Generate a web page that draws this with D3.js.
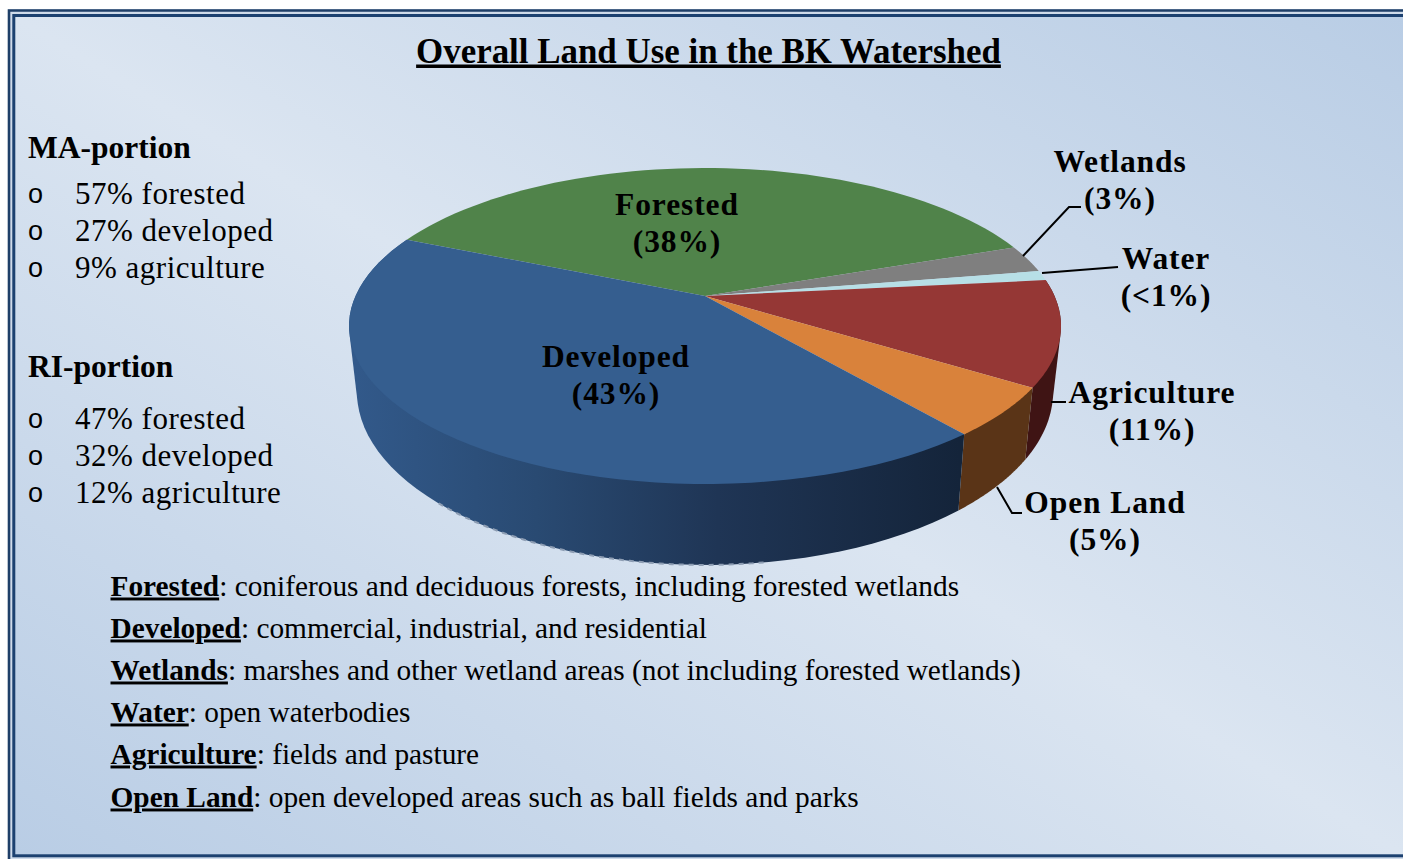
<!DOCTYPE html>
<html><head><meta charset="utf-8">
<script src="https://cdn.jsdelivr.net/npm/d3@7"></script>
<style>html,body{margin:0;padding:0;background:#fff}svg{display:block}text{font-family:"Liberation Serif",serif;fill:#000}</style>
</head><body><div id="c"></div>
<script>
const categories = ["Forested","Wetlands","Water","Agriculture","Open Land","Developed"];
const values = [38,2.8,1,10.8,5,42.4];
const topColors = ["#50834a","#7f7f7f","#b7dfe6","#953735","#d9823b","#355e8f"];
const wallColors = ["#2e4a2a","#444","#6a8a90","#3f1414","#5a3417","url(#wallGrad)"];
const pieLabels = ["Forested\n(38%)","Wetlands\n(3%)","Water\n(<1%)","Agriculture\n(11%)","Open Land\n(5%)","Developed\n(43%)"];
const maItems = ["57% forested","27% developed","9% agriculture"];
const riItems = ["47% forested","32% developed","12% agriculture"];
const defTerms = ["Forested","Developed","Wetlands","Water","Agriculture","Open Land"];
const defTexts = [": coniferous and deciduous forests, including forested wetlands",": commercial, industrial, and residential",": marshes and other wetland areas (not including forested wetlands)",": open waterbodies",": fields and pasture",": open developed areas such as ball fields and parks"];

const W=1403,H=859;
const svg=d3.select("#c").append("svg").attr("width",W).attr("height",H);
const defs=svg.append("defs");

// frame & background
const bx=15.3,by=17,bw=W-15,bh=837.3;
const nx=bh,ny=-bw,nl=Math.hypot(nx,ny),ux=nx/nl,uy=ny/nl;
const proj=(bw/2*ux-bh/2*uy);
const ccx=bx+bw/2,ccy=by+bh/2;
const bg=defs.append("linearGradient").attr("id","bg").attr("gradientUnits","userSpaceOnUse")
 .attr("x1",ccx-ux*proj).attr("y1",ccy-uy*proj).attr("x2",ccx+ux*proj).attr("y2",ccy+uy*proj);
[[0,"#b9cde5"],[.5,"#dbe5f1"],[1,"#b9cde5"]].forEach(s=>bg.append("stop").attr("offset",s[0]).attr("stop-color",s[1]));
const wg=defs.append("linearGradient").attr("id","wallGrad").attr("gradientUnits","userSpaceOnUse")
 .attr("x1",355).attr("x2",960).attr("y1",0).attr("y2",0);
[[0,"#32598a"],[.3,"#294a72"],[.6,"#1f3555"],[1,"#14243a"]].forEach(s=>wg.append("stop").attr("offset",s[0]).attr("stop-color",s[1]));

svg.append("rect").attr("x",8).attr("y",9).attr("width",W).attr("height",H-9).attr("fill","#cfdbea");
svg.append("path").attr("d",`M${W} 10.5H9V${H}`).attr("fill","none").attr("stroke","#1f3f68").attr("stroke-width",2.6);
svg.append("rect").attr("x",bx-1.5).attr("y",by-1.5).attr("width",W).attr("height",bh+3).attr("fill","url(#bg)").attr("stroke","#1c4170").attr("stroke-width",3);

// pie through d3.pie and a perspective projection of the unit disc
const start=293.4*Math.PI/180;
const arcs=d3.pie().value(d=>d).sort(null).startAngle(start).endAngle(start+2*Math.PI)(values);
const k=0.19;
const cx=705;
const project=(disc,a)=>{const u=Math.sin(a),v=-Math.cos(a),w=1-k*v;return [cx+disc.A*u/w,disc.cy+disc.B*v/w];};
const topDisc={A:349.5,B:152.3,cy:296}, botDisc={A:341.7,B:166.8,cy:359};
const line=d3.line();
const samples=(a0,a1)=>d3.range(0,61).map(i=>a0+(a1-a0)*i/60);
const g=svg.append("g");
// walls for the slices facing the viewer (hull gives straight tangents at the sides)
[3,4,5].forEach(i=>{const d=arcs[i];const s=samples(d.startAngle,d.endAngle);
 const pts=s.map(a=>project(topDisc,a)).concat(s.map(a=>project(botDisc,a)));
 g.append("path").attr("d",line(d3.polygonHull(pts))+"Z").attr("fill",wallColors[i]);});
// pale rough lower rim of the wall
const rim=samples(172*Math.PI/180,222*Math.PI/180).map(a=>project(botDisc,a));
g.append("path").attr("d",line(rim)).attr("fill","none").attr("stroke","#8d9db3").attr("stroke-width",2).attr("stroke-dasharray","5 5");
// top faces
arcs.forEach((d,i)=>{const pts=[[cx,topDisc.cy]].concat(samples(d.startAngle,d.endAngle).map(a=>project(topDisc,a)));
 g.append("path").attr("d",line(pts)+"Z").attr("fill",topColors[i]);});

// text helpers
function t(x,y,s,size,weight,anchor){return svg.append("text").attr("x",x).attr("y",y).attr("font-size",size).attr("font-weight",weight||"normal").attr("text-anchor",anchor||"start").text(s);}
t(708.5,62.5,"Overall Land Use in the BK Watershed",34.9,"bold","middle").attr("text-decoration","underline");

const bullet=(y)=>t(28,y,"o",27).style("font-family",'"Liberation Sans",sans-serif');
const item=(y,s)=>{bullet(y);t(75,y+0.5,s,31).attr("letter-spacing",0.5);};
t(28,157.5,"MA-portion",31.5,"bold");
maItems.forEach((s,i)=>item([203,240,277][i],s));
t(28,376.5,"RI-portion",31.5,"bold");
riItems.forEach((s,i)=>item([428,465,502][i],s));

// slice labels
const labelPos=[[677,214.5,251.5],[1120,171.5,208.5],[1166,268.5,305.5],[1152,402.5,439.5],[1105,512.5,549.5],[616,366.5,403.5]];
pieLabels.forEach((s,i)=>{const p=s.split("\n"),q=labelPos[i];
 t(q[0],q[1],p[0],31.5,"bold","middle").attr("letter-spacing",0.9);
 t(q[0],q[2],p[1],31.5,"bold","middle").attr("letter-spacing",0.9);});
const leaders=[[[1023,256],[1069,207],[1081,207]],[[1042,273],[1118,267]],[[1051,402],[1066,402]],[[997,487],[1012,513],[1022,513]]];
leaders.forEach(l=>svg.append("path").attr("d",line(l)).attr("fill","none").attr("stroke","#000").attr("stroke-width",2));

// definitions
const defY=[595.5,637.5,679.5,721.5,763.5,806.5];
defTerms.forEach((s,i)=>{const tx=svg.append("text").attr("x",110.5).attr("y",defY[i]).attr("font-size",29.35);
 tx.append("tspan").attr("font-weight","bold").attr("text-decoration","underline").text(s);
 tx.append("tspan").text(defTexts[i]);});
</script></body></html>
